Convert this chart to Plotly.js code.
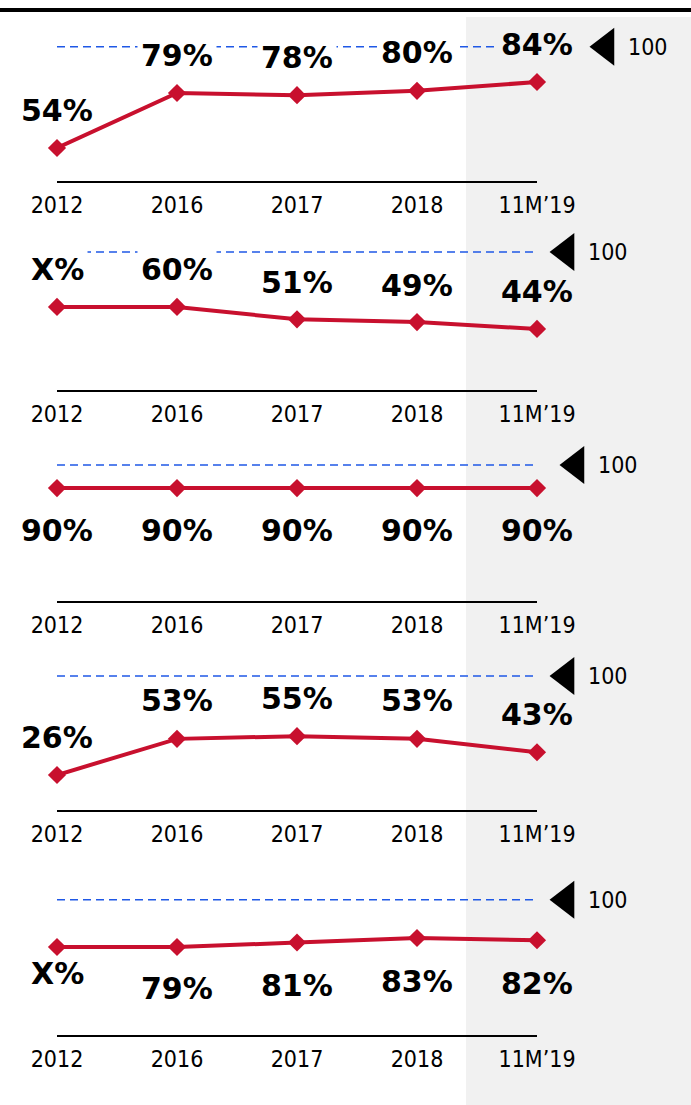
<!DOCTYPE html>
<html>
<head>
<meta charset="utf-8">
<script src="https://cdn.plot.ly/plotly-3.0.1.min.js"></script>
<style>html,body{margin:0;padding:0;background:#fff;}#chart{width:691px;height:1105px;}</style>
</head>
<body>
<div id="chart"></div>
<script>
// ---- data ----
const categories = ["2012", "2016", "2017", "2018", "11M\u201919"];
const target = 100;
const targetLabel = "100";

const values1 = [54, 79, 78, 80, 84];
const labels1 = ["54%", "79%", "78%", "80%", "84%"];

const values2 = [60, 60, 51, 49, 44];
const labels2 = ["X%", "60%", "51%", "49%", "44%"];

const values3 = [90, 90, 90, 90, 90];
const labels3 = ["90%", "90%", "90%", "90%", "90%"];

const values4 = [26, 53, 55, 53, 43];
const labels4 = ["26%", "53%", "55%", "53%", "43%"];

const values5 = [79, 79, 81, 83, 82];
const labels5 = ["X%", "79%", "81%", "83%", "82%"];

// ---- layout helpers (pixel geometry) ----
const W = 691, H = 1105;
const px = v => v / W;
const py = v => 1 - v / H;
const X0 = 57, X1 = 537;               // pixel extent of the category axis
const STEP = (X1 - X0) / (categories.length - 1);

const panels = [
  {vals: values1, labs: labels1, top: 30,  bottom: 181,  lo: 39,    slope: 2.2,   shifts: [38, 38, 38, 38, 38],      triX: 4.575},
  {vals: values2, labs: labels2, top: 240, bottom: 390,  lo: -0.4,  slope: 1.375, shifts: [37, 37, 37, 37, 37],      triX: 4.242},
  {vals: values3, labs: labels3, top: 450, bottom: 601,  lo: 40.9,  slope: 2.3,   shifts: [-42, -42, -42, -42, -42], triX: 4.325},
  {vals: values4, labs: labels4, top: 660, bottom: 810,  lo: -0.16, slope: 1.338, shifts: [38, 38, 38, 38, 38],      triX: 4.242},
  {vals: values5, labs: labels5, top: 885, bottom: 1035, lo: 39.9,  slope: 2.25,  shifts: [-26, -41, -43, -43, -43], triX: 4.242}
];

const RED = "#c8102e";
const BLUE = "#1f58e6";
const GRAY = "#f1f1f1";
const FONT_T = "DejaVu Sans Condensed, DejaVu Sans, sans-serif";
const FONT_B = "DejaVu Sans, sans-serif";

const xIdx = categories.map((c, i) => i);
const data = [];
const annotations = [];
const layout = {
  width: W, height: H,
  margin: {l: 0, r: 0, t: 0, b: 0},
  paper_bgcolor: "#ffffff",
  plot_bgcolor: "rgba(0,0,0,0)",
  showlegend: false,
  shapes: [
    {type: "rect", xref: "paper", yref: "paper", x0: px(466), x1: 1, y0: 0, y1: py(17),
     fillcolor: GRAY, line: {width: 0}, layer: "below"},
    {type: "line", xref: "paper", yref: "paper", x0: 0, x1: 1, y0: py(10), y1: py(10),
     line: {color: "#000", width: 4}}
  ],
  annotations: annotations
};

panels.forEach((p, k) => {
  const n = k === 0 ? "" : String(k + 1);
  const m = String(k + 6);                 // full-width x axis for the target marker
  const xa = "x" + n, ya = "y" + n, xo = "x" + m;
  const hi = p.lo + (p.bottom - p.top) / p.slope;
  const toPx = v => p.bottom - (v - p.lo) * p.slope;
  layout["xaxis" + n] = {
    domain: [px(X0), px(X1)], anchor: ya, range: [0, categories.length - 1],
    showline: true, linecolor: "#000", linewidth: 2, showgrid: false, zeroline: false,
    tickvals: xIdx, ticktext: categories, ticks: "", ticklabelstandoff: 2,
    tickfont: {family: FONT_T, size: 23, color: "#000"}, fixedrange: true
  };
  layout["xaxis" + m] = {
    domain: [0, 1], anchor: ya,
    range: [-X0 / STEP, (W - X0) / STEP],
    visible: false, showgrid: false, zeroline: false, fixedrange: true
  };
  layout["yaxis" + n] = {
    domain: [py(p.bottom), py(p.top)], anchor: xa, range: [p.lo, hi],
    visible: false, showgrid: false, zeroline: false, fixedrange: true
  };
  // dashed target line
  data.push({
    x: [0, categories.length - 1], y: [target, target], xaxis: xa, yaxis: ya,
    mode: "lines", line: {color: BLUE, width: 1.5, dash: "8px,5px"},
    hoverinfo: "skip", cliponaxis: false
  });
  // series
  data.push({
    x: xIdx, y: p.vals, xaxis: xa, yaxis: ya,
    mode: "lines+markers", line: {color: RED, width: 4},
    marker: {symbol: "diamond", size: 14, color: RED},
    cliponaxis: false, hoverinfo: "skip"
  });
  // target marker
  data.push({
    x: [p.triX], y: [target], xaxis: xo, yaxis: ya,
    mode: "markers", marker: {symbol: "triangle-left", size: 33, color: "#000"},
    cliponaxis: false, hoverinfo: "skip"
  });
  annotations.push({
    x: p.triX, y: target, xref: xo, yref: ya, text: targetLabel, showarrow: false,
    xanchor: "left", yanchor: "middle", xshift: 20,
    font: {family: FONT_T, size: 23, color: "#000"}
  });
  // value labels
  const tPx = toPx(target);
  p.vals.forEach((v, i) => {
    const labPx = toPx(v) - p.shifts[i];
    const mask = Math.abs(labPx - tPx) < 20;
    annotations.push({
      x: i, y: v, xref: xa, yref: ya, text: "<b>" + p.labs[i] + "</b>", showarrow: false,
      xanchor: "center", yanchor: "middle", yshift: p.shifts[i],
      font: {family: FONT_B, size: 30, color: "#000"},
      bgcolor: mask ? (i === categories.length - 1 ? GRAY : "#ffffff") : "rgba(0,0,0,0)",
      borderpad: 3
    });
  });
});

Plotly.newPlot("chart", data, layout, {staticPlot: true, displayModeBar: false});
</script>
</body>
</html>
